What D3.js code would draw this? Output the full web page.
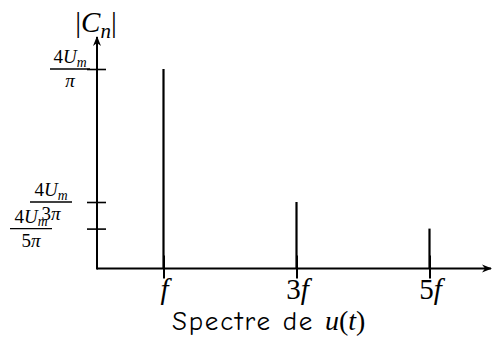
<!DOCTYPE html>
<html>
<head>
<meta charset="utf-8">
<script src="https://cdn.jsdelivr.net/npm/d3@7"></script>
<style>
  html, body { margin: 0; padding: 0; background: #fff; }
  svg { display: block; }
  .math { font-family: "Liberation Serif", "DejaVu Serif", serif; }
  .hand { font-family: "Comic Neue", "Comic Sans MS", "DejaVu Sans", sans-serif; }
</style>
</head>
<body>
<svg id="chart" width="492" height="341"></svg>
<script>
// Harmonic ranks n and the amplitude |C_n| in units of 4U_m/π
const harmonics = [1, 3, 5];
const amplitudes = [1, 1 / 3, 1 / 5];
const xTickLabels = [["", "f"], ["3", "f"], ["5", "f"]];
// y tick labels: numerator / denominator, each a list of [text, style] runs
const yTickLabels = [
  { num: [["4", "n"], ["U", "i"], ["m", "sub"]], den: [["π", "i"]] },
  { num: [["4", "n"], ["U", "i"], ["m", "sub"]], den: [["3", "n"], ["π", "i"]] },
  { num: [["4", "n"], ["U", "i"], ["m", "sub"]], den: [["5", "n"], ["π", "i"]] }
];
const yTickCentres = [70, 51, 31];
const yTickLineSpan = [[50, 90], [30, 72], [10, 52]];

const svg = d3.select("#chart");

const x = d3.scaleLinear().domain([0, 6]).range([97, 496]);
const y = d3.scaleLinear().domain([0, 1]).range([268.5, 69]);

const ink = "#000";

// arrowhead
svg.append("defs").append("marker")
  .attr("id", "arrow").attr("viewBox", "0 0 10 10")
  .attr("refX", 9).attr("refY", 5)
  .attr("markerWidth", 5).attr("markerHeight", 5)
  .attr("orient", "auto")
  .append("path").attr("d", "M0,1 L10,5 L0,9 L3,5 Z").attr("fill", ink);

// x axis with ticks crossing the line
const xAxis = svg.append("g").attr("transform", `translate(0,${y(0)})`)
  .call(d3.axisBottom(x).tickValues(harmonics).tickSize(10).tickFormat(""));
xAxis.select(".domain").remove();
xAxis.selectAll(".tick line").attr("y1", -13).attr("y2", 10)
  .attr("stroke", ink).attr("stroke-width", 2);

// y axis ticks crossing the line
const yAxis = svg.append("g").attr("transform", `translate(${x(0)},0)`)
  .call(d3.axisLeft(y).tickValues(amplitudes).tickSize(10).tickFormat(""));
yAxis.select(".domain").remove();
yAxis.selectAll(".tick line").attr("x1", 9).attr("x2", -10)
  .attr("stroke", ink).attr("stroke-width", 1.6);

// axis lines with arrows
svg.append("line")
  .attr("x1", x(0)).attr("y1", y(0)).attr("x2", 491).attr("y2", y(0))
  .attr("stroke", ink).attr("stroke-width", 2).attr("marker-end", "url(#arrow)");
svg.append("line")
  .attr("x1", x(0)).attr("y1", y(0) + 1).attr("x2", x(0)).attr("y2", 37)
  .attr("stroke", ink).attr("stroke-width", 2).attr("marker-end", "url(#arrow)");

// spectral lines
svg.append("g").selectAll("line")
  .data(harmonics.map((h, i) => ({ h, a: amplitudes[i] })))
  .join("line")
  .attr("x1", d => x(d.h)).attr("x2", d => x(d.h))
  .attr("y1", y(0)).attr("y2", d => y(d.a))
  .attr("stroke", ink).attr("stroke-width", 2.2);

// helper for math runs
function runs(textSel, parts, size) {
  parts.forEach(([t, s]) => {
    const ts = textSel.append("tspan").text(t);
    if (s === "i") ts.attr("font-style", "italic");
    if (s === "sub") {
      ts.attr("font-style", "italic").attr("font-size", size * 0.72).attr("dy", size * 0.2);
    }
  });
}

// y tick labels as fractions
const fs = 19;
yTickLabels.forEach((lab, i) => {
  const ty = y(amplitudes[i]);
  const cx = yTickCentres[i];
  const g = svg.append("g");
  const nt = g.append("text").attr("class", "math").attr("font-size", fs)
    .attr("x", cx).attr("y", ty - 6).attr("text-anchor", "middle");
  runs(nt, lab.num, fs);
  g.append("line")
    .attr("x1", yTickLineSpan[i][0]).attr("x2", yTickLineSpan[i][1])
    .attr("y1", ty).attr("y2", ty)
    .attr("stroke", ink).attr("stroke-width", 1.3);
  const dt = g.append("text").attr("class", "math").attr("font-size", fs)
    .attr("x", cx).attr("y", ty + 18).attr("text-anchor", "middle");
  runs(dt, lab.den, fs);
});

// x tick labels
const xfs = 29;
xTickLabels.forEach((lab, i) => {
  const t = svg.append("text").attr("class", "math").attr("font-size", xfs)
    .attr("x", x(harmonics[i]) + 1).attr("y", 299).attr("text-anchor", "middle");
  runs(t, [[lab[0], "n"], [lab[1], "i"]], xfs);
});

// y axis title |C_n|
const tfs = 29;
const tt = svg.append("text").attr("class", "math").attr("font-size", tfs)
  .attr("x", 96).attr("y", 32).attr("text-anchor", "middle");
runs(tt, [["|", "n"], ["C", "i"], ["n", "sub"]], tfs);
tt.append("tspan").text("|").attr("dy", -tfs * 0.2);

// caption
const cap = svg.append("text").attr("x", 172).attr("y", 330);
cap.append("tspan").attr("class", "hand").attr("font-size", 27)
  .attr("letter-spacing", 1.8).text("Spectre de ");
const capMath = cap.append("tspan").attr("class", "math").attr("font-size", 28);
capMath.append("tspan").attr("font-style", "italic").text("u");
capMath.append("tspan").text("(");
capMath.append("tspan").attr("font-style", "italic").text("t");
capMath.append("tspan").text(")");
</script>
</body>
</html>
